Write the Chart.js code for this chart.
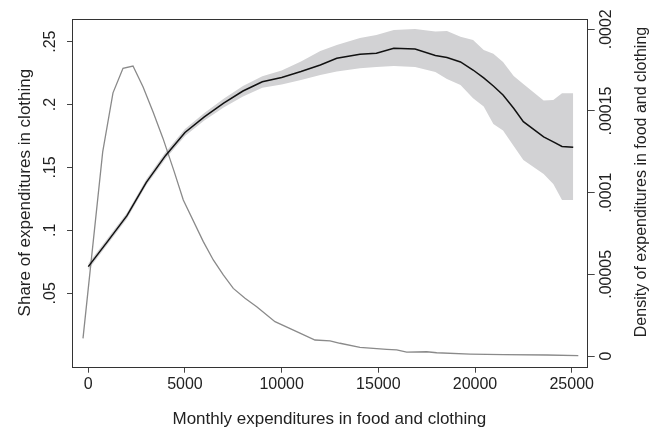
<!DOCTYPE html>
<html>
<head>
<meta charset="utf-8">
<title>Clothing share and density</title>
<script src="https://cdn.jsdelivr.net/npm/chart.js@4/dist/chart.umd.min.js"></script>
<style>
  html, body { margin: 0; padding: 0; background: #fff; }
  #chart { display: block; }
</style>
</head>
<body>
<canvas id="chart" width="664" height="432"></canvas>
<script>
// local polynomial fit of clothing share (left axis)
const shareX = [0, 1000, 2000, 3000, 4000, 5000, 6000, 7000, 8000, 9000, 10000, 11000, 12000, 12850,
  14050, 14900, 15800, 16900, 17950, 18550, 19250, 19900, 20450, 20950, 21450, 22000, 22500, 23550,
  24050, 24500, 25080];
const shareY = [0.0712, 0.0913, 0.1117, 0.1382, 0.1596, 0.1778, 0.1903, 0.2011, 0.2108, 0.2181, 0.2216,
  0.2263, 0.2315, 0.2368, 0.2400, 0.2408, 0.2448, 0.2442, 0.2391, 0.2375, 0.2339, 0.2275, 0.2212,
  0.2148, 0.2077, 0.1971, 0.1864, 0.1743, 0.1703, 0.1667, 0.1661];

// confidence band
const bandX = [0, 1000, 2000, 3000, 4000, 5000, 6000, 7000, 8000, 9000, 10000, 11000, 12000, 12850,
  14050, 14900, 15800, 16900, 17950, 18550, 19250, 19900, 20450, 20950, 21450, 22000, 22500, 23550,
  24050, 24500, 25080];
const bandUpper = [0.0736, 0.0937, 0.1141, 0.1406, 0.1623, 0.1806, 0.1933, 0.2046, 0.2148, 0.2226, 0.2271,
  0.2343, 0.2426, 0.2474, 0.2530, 0.2554, 0.2593, 0.2601, 0.2581, 0.2585, 0.2540, 0.2514, 0.2434,
  0.2404, 0.2339, 0.2228, 0.2164, 0.2033, 0.2037, 0.2090, 0.2090];
const bandLower = [0.0688, 0.0889, 0.1093, 0.1358, 0.1569, 0.1750, 0.1873, 0.1976, 0.2065, 0.2133, 0.2160,
  0.2196, 0.2236, 0.2263, 0.2289, 0.2299, 0.2307, 0.2299, 0.2259, 0.2204, 0.2156, 0.2050, 0.1984,
  0.1846, 0.1794, 0.1671, 0.1560, 0.1448, 0.1369, 0.1242, 0.1242];

// kernel density of expenditures (right axis)
const densX = [-274, 745, 1277, 1795, 2312, 2829, 3346, 3863, 4417, 4913, 5948, 6465, 6982, 7499, 8105,
  8710, 9656, 10778, 11725, 12501, 13018, 14052, 15433, 15950, 16467, 17502, 18019, 19742, 21464,
  23709, 25343];
const densY = [1.08e-5, 1.250e-4, 1.611e-4, 1.761e-4, 1.775e-4, 1.648e-4, 1.495e-4, 1.332e-4, 1.138e-4,
  9.55e-5, 7.0e-5, 5.88e-5, 4.96e-5, 4.14e-5, 3.53e-5, 3.02e-5, 2.10e-5, 1.49e-5, 9.8e-6, 9.2e-6,
  7.8e-6, 5.3e-6, 4.1e-6, 3.7e-6, 2.4e-6, 2.6e-6, 2.0e-6, 1.2e-6, 8e-7, 6e-7, 2e-7];

const xTicks = [0, 5000, 10000, 15000, 20000, 25000];
const leftTicks = [0.05, 0.1, 0.15, 0.2, 0.25];
const leftTickLabels = [".05", ".1", ".15", ".2", ".25"];
const rightTicks = [0, 0.00005, 0.0001, 0.00015, 0.0002];
const rightTickLabels = ["0", ".00005", ".0001", ".00015", ".0002"];

const xTitle = "Monthly expenditures in food and clothing";
const leftTitle = "Share of expenditures in clothing";
const rightTitle = "Density of expenditures in food and clothing";

const FONT = "'Liberation Sans', Arial, Helvetica, sans-serif";
const TEXT = "#222";

const pts = (xs, ys) => xs.map((x, i) => ({ x, y: ys[i] }));

// rotated y tick labels, right title and plot frame
const stataBits = {
  id: "stataBits",
  afterDraw(chart) {
    const { ctx, chartArea, scales } = chart;
    ctx.save();
    ctx.strokeStyle = "#333";
    ctx.lineWidth = 1;
    ctx.strokeRect(Math.round(chartArea.left) + 0.5, Math.round(chartArea.top) + 0.5,
      Math.round(chartArea.right - chartArea.left), Math.round(chartArea.bottom - chartArea.top));

    ctx.fillStyle = TEXT;
    ctx.textAlign = "center";
    ctx.textBaseline = "middle";
    const vert = (txt, x, y) => {
      ctx.save();
      ctx.translate(x, y);
      ctx.rotate(-Math.PI / 2);
      ctx.fillText(txt, 0, 0);
      ctx.restore();
    };
    ctx.font = "16px " + FONT;
    leftTicks.forEach((v, i) => vert(leftTickLabels[i], chartArea.left - 21, scales.y.getPixelForValue(v)));
    rightTicks.forEach((v, i) => vert(rightTickLabels[i], chartArea.right + 20, scales.y2.getPixelForValue(v)));
    vert(rightTitle, chartArea.right + 55, 182);
    ctx.restore();
  }
};

new Chart(document.getElementById("chart"), {
  type: "line",
  data: {
    datasets: [
      {
        label: "lower",
        data: pts(bandX, bandLower),
        yAxisID: "y",
        borderWidth: 0,
        pointRadius: 0,
        fill: false,
        order: 3
      },
      {
        label: "upper",
        data: pts(bandX, bandUpper),
        yAxisID: "y",
        borderWidth: 0,
        pointRadius: 0,
        backgroundColor: "#d2d2d4",
        fill: "-1",
        order: 2
      },
      {
        label: "share",
        data: pts(shareX, shareY),
        yAxisID: "y",
        borderColor: "#111",
        borderWidth: 1.5,
        pointRadius: 0,
        fill: false,
        order: 0
      },
      {
        label: "density",
        data: pts(densX, densY),
        yAxisID: "y2",
        borderColor: "#8a8a8a",
        borderWidth: 1.3,
        pointRadius: 0,
        fill: false,
        order: 1
      }
    ]
  },
  options: {
    responsive: false,
    animation: false,
    layout: { padding: { top: 18.5, left: 0, right: 0, bottom: 0 } },
    plugins: { legend: { display: false }, tooltip: { enabled: false } },
    scales: {
      x: {
        type: "linear",
        min: -843,
        max: 25777,
        afterBuildTicks: s => { s.ticks = xTicks.map(v => ({ value: v })); },
        afterFit: s => { s.height = 65.3; },
        grid: { drawOnChartArea: false, tickLength: 6, color: "#444" },
        border: { display: false },
        ticks: {
          color: TEXT,
          font: { family: FONT, size: 16 },
          padding: 2,
          maxRotation: 0,
          callback: v => String(v)
        },
        title: { display: true, text: xTitle, color: TEXT, font: { family: FONT, size: 17 }, padding: { bottom: 2 } }
      },
      y: {
        position: "left",
        min: -0.00835,
        max: 0.26844,
        afterBuildTicks: s => { s.ticks = leftTicks.map(v => ({ value: v })); },
        afterFit: s => { s.width = 72; },
        grid: { drawOnChartArea: false, tickLength: 5, color: "#444" },
        border: { display: false },
        ticks: { display: false },
        title: { display: true, text: leftTitle, color: TEXT, font: { family: FONT, size: 17 }, padding: { top: 15 } }
      },
      y2: {
        position: "right",
        min: -0.00000655,
        max: 0.00020661,
        afterBuildTicks: s => { s.ticks = rightTicks.map(v => ({ value: v })); },
        afterFit: s => { s.width = 77.3; },
        grid: { drawOnChartArea: false, tickLength: 8, color: "#444" },
        border: { display: false },
        ticks: { display: false }
      }
    }
  },
  plugins: [stataBits]
});
</script>
</body>
</html>
